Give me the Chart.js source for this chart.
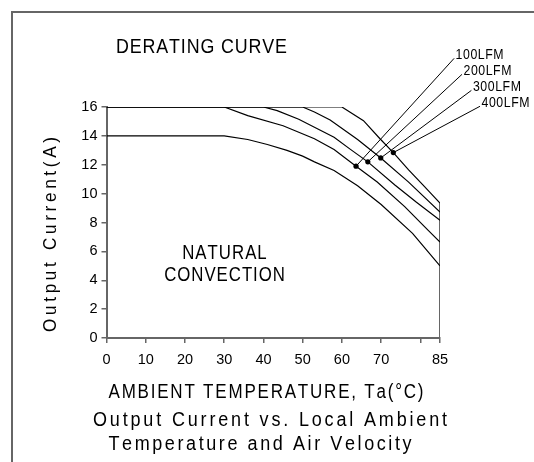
<!DOCTYPE html>
<html>
<head>
<meta charset="utf-8">
<title>Derating curve</title>
<script src="https://cdn.jsdelivr.net/npm/chart.js@4.4.1/dist/chart.umd.min.js"></script>
<style>
  html, body { margin: 0; padding: 0; background: #fff; }
  #sheet { position: relative; width: 534px; height: 462px; overflow: hidden; }
  #frame { position: absolute; left: 11px; top: 11px; width: 600px; height: 600px;
           border-left: 2px solid #666; border-top: 2px solid #666; }
  #chart { position: absolute; left: 0; top: 0; }
</style>
</head>
<body>
<div id="sheet">
  <div id="frame"></div>
  <canvas id="chart" width="534" height="462"></canvas>
</div>
<script>
// curve data (temperature in degC, current in A)
const naturalTemp = [0, 30, 36, 41, 46, 50, 53, 58, 64, 70, 78, 85];
const naturalAmps = [14, 14, 13.75, 13.4, 13.0, 12.6, 12.2, 11.6, 10.55, 9.25, 7.25, 5.0];
const lfm100Temp = [0, 30, 36, 45, 53, 58, 63.6, 69, 76, 82, 85];
const lfm100Amps = [16, 16, 15.4, 14.7, 13.8, 13.05, 11.9, 10.8, 9.1, 7.45, 6.65];
const lfm200Temp = [0, 40, 43.5, 49, 53, 58, 62, 66.6, 73.5, 79, 85];
const lfm200Amps = [16, 16, 15.75, 15.15, 14.6, 13.9, 13.1, 12.2, 10.6, 9.4, 8.15];
const lfm300Temp = [0, 50, 53, 57, 64, 69.9, 77, 85];
const lfm300Amps = [16, 16, 15.65, 15.1, 13.75, 12.47, 10.8, 8.73];
const lfm400Temp = [0, 60, 65.5, 69.7, 73.1, 77, 81, 85];
const lfm400Amps = [16, 16, 15.05, 13.8, 12.84, 11.65, 10.5, 9.35];

// callouts: dot on each curve and the end of its leader line
const lfmLabels = ['100LFM', '200LFM', '300LFM', '400LFM'];
const markerTemp = [63.6, 66.6, 69.9, 73.1];
const markerAmps = [11.9, 12.2, 12.47, 12.84];
const leaderTemp = [88.6, 90.6, 93.0, 95.2];
const leaderAmps = [19.37, 18.26, 17.15, 16.05];

// right hand limit line at 85 degC
const limitTemp = [85, 85];
const limitAmps = [0, 9.35];

// axes
const xTickValues = [0, 10, 20, 30, 40, 50, 60, 70, 80, 85];
const xTickLabels = ['0', '10', '20', '30', '40', '50', '60', '70', '', '85'];
const yTickValues = [0, 2, 4, 6, 8, 10, 12, 14, 16];
const yTickLabels = ['0', '2', '4', '6', '8', '10', '12', '14', '16'];

const FONT = '"Liberation Sans", Arial, sans-serif';
const AXIS_GREY = '#666';

function toPoints(xs, ys) {
    return xs.map((x, i) => ({ x: x, y: ys[i] }));
}

function curve(xs, ys) {
    return {
        data: toPoints(xs, ys),
        borderColor: '#000',
        borderWidth: 1.2,
        pointRadius: 0,
        tension: 0,
        fill: false
    };
}

const datasets = [
    curve(naturalTemp, naturalAmps),
    curve(lfm100Temp, lfm100Amps),
    curve(lfm200Temp, lfm200Amps),
    curve(lfm300Temp, lfm300Amps),
    curve(lfm400Temp, lfm400Amps),
    {
        data: toPoints(limitTemp, limitAmps),
        borderColor: AXIS_GREY,
        borderWidth: 2,
        pointRadius: 0
    }
];

lfmLabels.forEach((name, i) => {
    datasets.push({
        label: name,
        data: [{ x: markerTemp[i], y: markerAmps[i] }, { x: leaderTemp[i], y: leaderAmps[i] }],
        borderColor: '#000',
        borderWidth: 1,
        pointRadius: [2.6, 0],
        pointBackgroundColor: '#000',
        pointBorderWidth: 0,
        clip: false
    });
});

// draws text char by char: narrow glyphs, wide spacing like the plotter font
function spacedText(ctx, str, left, base, size, width, squeeze, angle) {
    ctx.save();
    ctx.font = size + 'px ' + FONT;
    ctx.fillStyle = '#000';
    ctx.textBaseline = 'alphabetic';
    ctx.textAlign = 'left';
    ctx.translate(left, base);
    if (angle) ctx.rotate(angle);
    const chars = [...str];
    const widths = chars.map(c => ctx.measureText(c).width * squeeze);
    const total = widths.reduce((a, b) => a + b, 0);
    const gap = chars.length > 1 ? (width - total) / (chars.length - 1) : 0;
    let cx = 0;
    chars.forEach((c, i) => {
        ctx.save();
        ctx.translate(cx, 0);
        ctx.scale(squeeze, 1);
        ctx.fillText(c, 0, 0);
        ctx.restore();
        cx += widths[i] + gap;
    });
    ctx.restore();
}

const sheetText = {
    id: 'sheetText',
    afterDraw(chart) {
        const ctx = chart.ctx;
        const xs = chart.scales.x;
        const ys = chart.scales.y;

        spacedText(ctx, 'DERATING CURVE', 116, 52.5, 21, 171, 0.85);

        // note inside the plot, centred on 30 degC
        const cx = xs.getPixelForValue(30);
        spacedText(ctx, 'NATURAL', cx - 42, ys.getPixelForValue(5.45), 21, 84.5, 0.8);
        spacedText(ctx, 'CONVECTION', cx - 60, ys.getPixelForValue(3.95), 21, 120.7, 0.8);

        // callout labels at the end of each leader
        lfmLabels.forEach((name, i) => {
            spacedText(ctx, name, xs.getPixelForValue(leaderTemp[i]) + 1.5,
                ys.getPixelForValue(leaderAmps[i]) + 1, 14, 48, 0.88);
        });

        // axis titles and caption
        spacedText(ctx, 'Output Current(A)', 56, 332, 19, 195, 0.9, -Math.PI / 2);
        spacedText(ctx, 'AMBIENT TEMPERATURE, Ta(°C)', 108.5, 398, 20, 315, 0.85);
        spacedText(ctx, 'Output Current vs. Local Ambient', 93, 425.6, 20, 354, 0.9);
        spacedText(ctx, 'Temperature and Air Velocity', 108.5, 450.2, 20, 303, 0.9);
    }
};

const chart = new Chart(document.getElementById('chart'), {
    type: 'line',
    data: { datasets: datasets },
    plugins: [sheetText],
    options: {
        responsive: false,
        animation: false,
        layout: { padding: { left: 0, top: 107, right: 94, bottom: 0 } },
        plugins: {
            legend: { display: false },
            tooltip: { enabled: false },
            title: { display: false }
        },
        scales: {
            x: {
                type: 'linear',
                min: 0,
                max: 85,
                afterBuildTicks: scale => { scale.ticks = xTickValues.map(v => ({ value: v })); },
                afterFit: scale => { scale.height = 124; },
                ticks: {
                    autoSkip: false,
                    maxRotation: 0,
                    padding: 8,
                    color: '#000',
                    font: { family: FONT, size: 14.5 },
                    callback: (value, index) => xTickLabels[index]
                },
                grid: { drawOnChartArea: false, drawTicks: true, tickLength: 5, color: AXIS_GREY, lineWidth: 1.5 },
                border: { display: true, color: AXIS_GREY, width: 2 }
            },
            y: {
                type: 'linear',
                min: 0,
                max: 16,
                afterBuildTicks: scale => { scale.ticks = yTickValues.map(v => ({ value: v })); },
                afterFit: scale => { scale.width = 106.5; },
                ticks: {
                    autoSkip: false,
                    padding: 4,
                    color: '#000',
                    font: { family: FONT, size: 14.5 },
                    callback: (value, index) => yTickLabels[index]
                },
                grid: { drawOnChartArea: false, drawTicks: true, tickLength: 5, color: AXIS_GREY, lineWidth: 1.5 },
                border: { display: true, color: AXIS_GREY, width: 2 }
            }
        }
    }
});
</script>
</body>
</html>
